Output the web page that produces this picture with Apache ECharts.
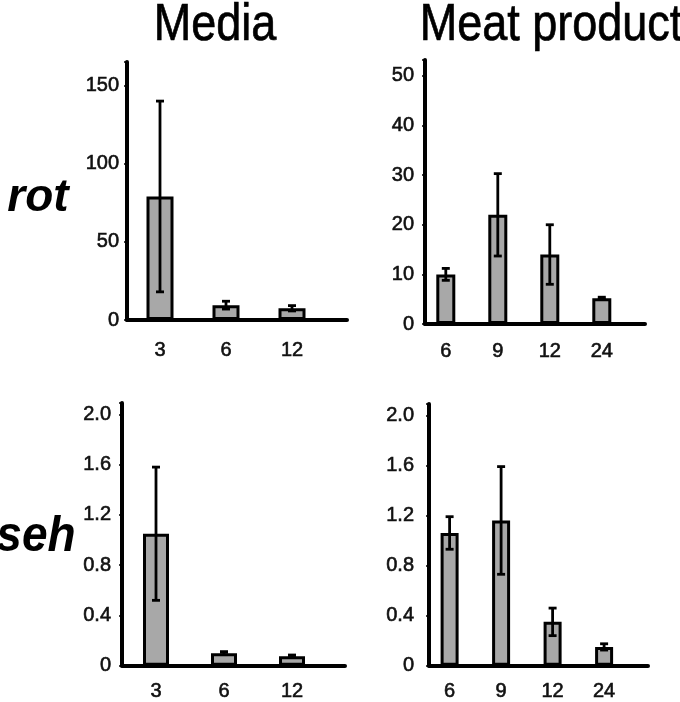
<!DOCTYPE html>
<html>
<head>
<meta charset="utf-8">
<script src="https://cdn.jsdelivr.net/npm/echarts@6/dist/echarts.min.js"></script>
<style>
html,body{margin:0;padding:0;background:#fff;}
#c{width:680px;height:702px;}
</style>
</head>
<body>
<div id="c"></div>
<script>
// ---- data ----
const mediaCats = ['3', '6', '12'];
const meatCats = ['6', '9', '12', '24'];

const rotMedia = [79, 9.5, 7.5];
const rotMediaErr = [61, 2.5, 1.7];
const rotMeat = [10, 22, 14, 5.2];
const rotMeatErr = [1.2, 8.3, 6, 0.2];

const sehMedia = [1.05, 0.1, 0.075];
const sehMediaErr = [0.53, 0.012, 0.01];
const sehMeat = [1.06, 1.16, 0.35, 0.15];
const sehMeatErr = [0.13, 0.43, 0.11, 0.025];

const rotMediaTicks = [0, 50, 100, 150];
const rotMeatTicks = [0, 10, 20, 30, 40, 50];
const sehTicks = ['0', '0.4', '0.8', '1.2', '1.6', '2.0'];

const colTitles = ['Media', 'Meat product'];
const rowTitles = ['rot', 'seh'];

// ---- chart ----
const FONT = 'Liberation Sans, Arial, Helvetica, sans-serif';
const chart = echarts.init(document.getElementById('c'));

const panels = [
  {cats: mediaCats, vals: rotMedia, errs: rotMediaErr, grid: {left: 127, top: 62, width: 220, height: 258},
   xmin: -0.5, xint: 0.5, band: 66, ymax: 165, yint: 50, ticks: rotMediaTicks.map(String), ymargin: 8, xmargin: 20, barW: 27},
  {cats: meatCats, vals: rotMeat, errs: rotMeatErr, grid: {left: 425, top: 60, width: 220, height: 264},
   xmin: -0.4, xint: 0.2, band: 52, ymax: 53.2, yint: 10, ticks: rotMeatTicks.map(String), ymargin: 11, xmargin: 17, barW: 19},
  {cats: mediaCats, vals: sehMedia, errs: sehMediaErr, grid: {left: 122, top: 403, width: 223, height: 263},
   xmin: -0.5, xint: 0.5, band: 68, ymax: 2.09, yint: 0.4, ticks: sehTicks, ymargin: 11, xmargin: 16, barW: 26},
  {cats: meatCats, vals: sehMeat, errs: sehMeatErr, grid: {left: 429, top: 404, width: 219, height: 263},
   xmin: -0.4, xint: 0.2, band: 51.5, ymax: 2.09, yint: 0.4, ticks: sehTicks, ymargin: 15, xmargin: 16, barW: 18}
];

const labelStyle = {fontSize: 20, color: '#111', fontFamily: FONT, textBorderColor: '#111', textBorderWidth: 0.6};

const grids = [], xAxes = [], yAxes = [], series = [];
panels.forEach((p, k) => {
  grids.push(Object.assign({containLabel: false}, p.grid));
  const xmax = p.xmin + p.grid.width / p.band;
  xAxes.push({
    type: 'value', gridIndex: k, min: p.xmin, max: xmax, interval: p.xint,
    splitLine: {show: false}, axisTick: {show: false},
    axisLine: {show: true, lineStyle: {color: '#000', width: 4}},
    axisLabel: Object.assign({
      margin: p.xmargin, showMinLabel: true, showMaxLabel: true,
      formatter: v => {
        const i = Math.round(v);
        return (Math.abs(v - i) < 1e-6 && i >= 0 && i < p.cats.length) ? p.cats[i] : '';
      }
    }, labelStyle)
  });
  yAxes.push({
    type: 'value', gridIndex: k, min: 0, max: p.ymax, interval: p.yint,
    splitLine: {show: false},
    axisTick: {show: true, length: 3, lineStyle: {color: '#000', width: 1.5}},
    axisLine: {show: true, onZero: false, lineStyle: {color: '#000', width: 4}},
    axisLabel: Object.assign({
      margin: p.ymargin,
      formatter: v => {
        const i = Math.round(v / p.yint);
        return (Math.abs(v / p.yint - i) < 1e-6 && i < p.ticks.length) ? p.ticks[i] : '';
      }
    }, labelStyle)
  });
  series.push({
    type: 'bar', xAxisIndex: k, yAxisIndex: k, barWidth: p.barW,
    itemStyle: {color: '#a8a8a8', borderColor: '#000', borderWidth: 3},
    data: p.vals.map((v, i) => [i, v]), z: 2, animation: false
  });
  series.push({
    type: 'custom', xAxisIndex: k, yAxisIndex: k, z: 3, animation: false,
    data: p.vals.map((v, i) => [i, v, p.errs[i]]),
    encode: {x: 0, y: 1},
    renderItem: (params, api) => {
      const i = api.value(0), v = api.value(1), e = api.value(2);
      const top = api.coord([i, v + e]);
      const bot = api.coord([i, v - e]);
      const hw = 4;
      const st = {stroke: '#000', lineWidth: 2.8};
      return {
        type: 'group',
        children: [
          {type: 'line', shape: {x1: top[0], y1: top[1], x2: bot[0], y2: bot[1]}, style: st},
          {type: 'line', shape: {x1: top[0] - hw, y1: top[1], x2: top[0] + hw, y2: top[1]}, style: st},
          {type: 'line', shape: {x1: bot[0] - hw, y1: bot[1], x2: bot[0] + hw, y2: bot[1]}, style: st}
        ]
      };
    }
  });
});

chart.setOption({
  animation: false,
  backgroundColor: '#fff',
  grid: grids,
  xAxis: xAxes,
  yAxis: yAxes,
  series: series,
  graphic: [
    {type: 'text', x: 215, y: 26, scaleY: 1.15, style: {text: colTitles[0], font: '45px ' + FONT, fill: '#000', stroke: '#000', lineWidth: 0.6, textAlign: 'center', textVerticalAlign: 'middle'}},
    {type: 'text', x: 551, y: 26, scaleY: 1.15, style: {text: colTitles[1], font: '45px ' + FONT, fill: '#000', stroke: '#000', lineWidth: 0.6, textAlign: 'center', textVerticalAlign: 'middle'}},
    {type: 'text', x: 38, y: 198, style: {text: rowTitles[0], font: 'italic bold 46px ' + FONT, fill: '#000', textAlign: 'center', textVerticalAlign: 'middle'}},
    {type: 'text', x: 36, y: 537, scaleY: 1.08, style: {text: rowTitles[1], font: 'italic bold 46px ' + FONT, fill: '#000', textAlign: 'center', textVerticalAlign: 'middle'}}
  ]
});
</script>
</body>
</html>
